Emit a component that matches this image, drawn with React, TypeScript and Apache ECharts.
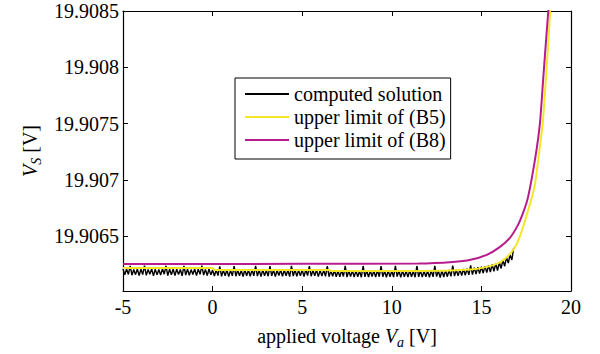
import React, { useEffect, useRef } from "react";
import * as echarts from "echarts";

// x tick labels
const xTicks = [-5, 0, 5, 10, 15, 20];
// y tick labels
const yTicks = [19.9065, 19.907, 19.9075, 19.908, 19.9085];

// upper limit of (B8): [applied voltage, V_S]
const b8Points: [number, number][] = [
  [-5, 19.906255], [5, 19.906256], [11.5, 19.906258], [13.4, 19.906272], [14.4, 19.906292],
  [15.3, 19.906336], [16.0, 19.906402], [16.6, 19.906489], [17.05, 19.906604], [17.35, 19.906719],
  [17.6, 19.906846], [18.0, 19.90719], [18.27, 19.90751], [18.45, 19.9079], [18.64, 19.908307],
  [18.73, 19.908494], [18.85, 19.9088],
];

// upper limit of (B5): [applied voltage, V_S]
const b5Points: [number, number][] = [
  [-5, 19.90622], [0, 19.90622], [0.1, 19.906201], [6.5, 19.906201], [6.6, 19.906192],
  [11.5, 19.906192], [14.4, 19.906206], [15.3, 19.906229], [16.05, 19.906272], [16.6, 19.906344],
  [16.97, 19.906431], [17.25, 19.906546], [17.53, 19.90669], [17.8, 19.906835], [18.0, 19.90697],
  [18.18, 19.90719], [18.42, 19.9075], [18.6, 19.9079], [18.77, 19.908307], [18.83, 19.908494],
  [18.95, 19.9088],
];

// computed solution: start voltage, step, and values in µV above 19.906 V
const computedStart = -5;
const computedStep = 0.1;
const computedMicroV = [
  212, 158, 210, 162, 238, 155, 206, 160, 211, 152,
  208, 161, 240, 154, 207, 163, 212, 150, 209, 158,
  206, 156, 213, 164, 239, 151, 208, 159, 210, 153,
  211, 162, 206, 150, 237, 157, 209, 155, 205, 161,
  212, 152, 208, 163, 240, 156, 206, 153, 210, 158,
  202, 148, 204, 152, 234, 145, 200, 150, 203, 143,
  200, 149, 236, 146, 202, 151, 198, 144, 204, 149,
  201, 145, 203, 150, 238, 147, 201, 143, 204, 151,
  199, 146, 235, 149, 202, 144, 199, 152, 203, 145,
  201, 150, 200, 143, 237, 148, 204, 145, 199, 149,
  202, 144, 205, 151, 236, 146, 200, 149, 203, 143,
  198, 147, 200, 145, 235, 142, 196, 146, 199, 141,
  195, 140, 198, 144, 238, 139, 195, 143, 197, 138,
  196, 142, 193, 137, 237, 141, 197, 139, 194, 143,
  195, 138, 198, 142, 236, 140, 192, 137, 196, 141,
  193, 139, 238, 143, 195, 136, 197, 140, 194, 138,
  197, 142, 192, 137, 237, 141, 196, 138, 193, 142,
  195, 137, 198, 140, 239, 143, 194, 135, 197, 139,
  198, 142, 201, 145, 240, 147, 203, 149, 207, 151,
  210, 155, 214, 158, 242, 161, 221, 165, 226, 169,
  230, 173, 236, 178, 243, 183, 252, 190, 260, 197,
  268, 215, 290, 235, 315, 262, 338, 290, 398,
];

const seriesNames = ["computed solution", "upper limit of (B5)", "upper limit of (B8)"];
const seriesColors = ["#000000", "#f5e62a", "#b81c8c"];

const FONT = "'Liberation Serif', 'Times New Roman', 'DejaVu Serif', serif";
const Y_MIN = 19.906015;
const Y_MAX = 19.9085;

export default function App() {
  const ref = useRef<HTMLDivElement>(null);
  useEffect(() => {
    if (!ref.current) return;
    const chart = echarts.init(ref.current, null, { renderer: "svg" });
    const computed = computedMicroV.map((u, i) => [
      +(computedStart + i * computedStep).toFixed(2),
      19.906 + u * 1e-6,
    ]);
    const fmtY = (v: number) => String(+v.toFixed(4));
    const axisLine = { show: true, onZero: false, lineStyle: { color: "#000", width: 1.2 } };
    const tick = { inside: true, length: 5, lineStyle: { color: "#000" } };
    const richName = {
      n: { fontFamily: FONT, fontSize: 20, color: "#000", lineHeight: 24 },
      i: { fontFamily: FONT, fontSize: 20, color: "#000", fontStyle: "italic", lineHeight: 24 },
      s: {
        fontFamily: FONT,
        fontSize: 14,
        color: "#000",
        fontStyle: "italic",
        lineHeight: 24,
        padding: [12, 0, 0, 0],
      },
    };
    chart.setOption({
      animation: false,
      backgroundColor: "#fff",
      textStyle: { fontFamily: FONT },
      grid: { left: 123, right: 29, top: 11, bottom: 56 },
      legend: {
        left: 235,
        top: 78,
        orient: "vertical",
        data: seriesNames,
        icon: "rect",
        borderColor: "#000",
        borderWidth: 1,
        borderRadius: 0,
        backgroundColor: "#fff",
        padding: [6, 5, 9, 10],
        itemWidth: 44,
        itemHeight: 2,
        itemGap: 3,
        textStyle: { fontFamily: FONT, fontSize: 20, color: "#000", lineHeight: 20 },
      },
      xAxis: [
        {
          type: "value",
          min: -5,
          max: 20,
          interval: 5,
          axisLine,
          axisTick: tick,
          axisLabel: { show: false },
          splitLine: { show: false },
          name: "{n|applied voltage }{i|V}{s|a}{n| [V]}",
          nameLocation: "middle",
          nameGap: 33,
          nameTextStyle: { rich: richName },
        },
        {
          type: "value",
          position: "top",
          min: -5,
          max: 20,
          interval: 5,
          axisLine,
          axisTick: tick,
          axisLabel: { show: false },
          splitLine: { show: false },
        },
      ],
      yAxis: [
        {
          type: "value",
          min: Y_MIN,
          max: Y_MAX,
          axisLine,
          axisTick: { ...tick, customValues: yTicks },
          axisLabel: { show: false, customValues: yTicks },
          splitLine: { show: false },
          name: "{i|V}{s|S}{n| [V]}",
          nameLocation: "middle",
          nameGap: 81,
          nameRotate: 90,
          nameTextStyle: { rich: richName },
        },
        {
          type: "value",
          position: "right",
          min: Y_MIN,
          max: Y_MAX,
          axisLine,
          axisTick: { ...tick, customValues: yTicks },
          axisLabel: { show: false, customValues: yTicks },
          splitLine: { show: false },
        },
      ],
      series: [
        {
          name: seriesNames[0],
          type: "line",
          data: computed,
          symbol: "none",
          color: seriesColors[0],
          lineStyle: { color: seriesColors[0], width: 1.4 },
          z: 3,
        },
        {
          name: seriesNames[1],
          type: "line",
          data: b5Points,
          symbol: "none",
          smooth: 0.2,
          color: seriesColors[1],
          lineStyle: { color: seriesColors[1], width: 2 },
          z: 4,
        },
        {
          name: seriesNames[2],
          type: "line",
          data: b8Points,
          symbol: "none",
          smooth: 0.2,
          color: seriesColors[2],
          lineStyle: { color: seriesColors[2], width: 2 },
          z: 4,
        },
      ],
    });

    // tick labels placed through the axes' own scales
    const bottomPx = chart.convertToPixel({ yAxisIndex: 0 }, Y_MIN) as number;
    const leftPx = chart.convertToPixel({ xAxisIndex: 0 }, -5) as number;
    const richLabel = {
      t: { fontFamily: FONT, fontSize: 20, color: "#000", lineHeight: 22 },
    };
    const xLabels = xTicks.map((v) => ({
      type: "text",
      x: chart.convertToPixel({ xAxisIndex: 0 }, v) as number,
      y: bottomPx + 16,
      silent: true,
      style: {
        text: `{t|${v}}`,
        rich: richLabel,
        fontFamily: FONT,
        fontSize: 20,
        lineHeight: 22,
        fill: "#000",
        align: "center",
        verticalAlign: "middle",
      },
    }));
    const yLabels = yTicks.map((v) => ({
      type: "text",
      x: leftPx - 4,
      y: chart.convertToPixel({ yAxisIndex: 0 }, v) as number,
      silent: true,
      style: {
        text: `{t|${fmtY(v)}}`,
        rich: richLabel,
        fontFamily: FONT,
        fontSize: 20,
        lineHeight: 22,
        fill: "#000",
        align: "right",
        verticalAlign: "middle",
      },
    }));
    chart.setOption({ graphic: [...xLabels, ...yLabels] });

    return () => chart.dispose();
  }, []);
  return (
    <div
      ref={ref}
      style={{ position: "absolute", left: 0, top: 0, width: 600, height: 354 }}
    />
  );
}
